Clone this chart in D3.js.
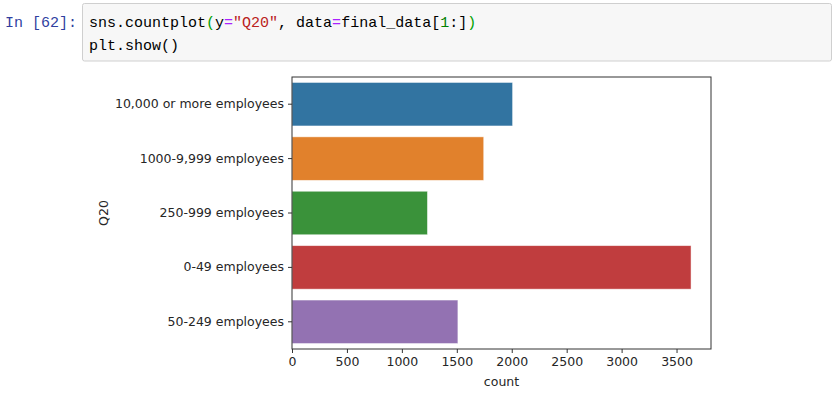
<!DOCTYPE html>
<html>
<head>
<meta charset="utf-8">
<script src="https://cdn.jsdelivr.net/npm/d3@7"></script>
<style>
  body { margin: 0; background: #fff; }
  svg { display: block; }
</style>
</head>
<body>
<svg width="837" height="397"></svg>
<script>
// Data
var categories = ["10,000 or more employees", "1000-9,999 employees", "250-999 employees", "0-49 employees", "50-249 employees"];
var counts = [2008, 1745, 1233, 3632, 1510];
var colors = ["#3274a1", "#e1812c", "#3a923a", "#c03d3e", "#9372b2"];
var xTicks = [0, 500, 1000, 1500, 2000, 2500, 3000, 3500];

var svg = d3.select("svg");

// Notebook cell
svg.append("rect")
    .attr("x", 82.5).attr("y", 3.5)
    .attr("width", 749).attr("height", 57.5)
    .attr("rx", 2)
    .attr("fill", "#f7f7f7")
    .attr("stroke", "#cfcfcf");

svg.append("text")
    .attr("x", 5).attr("y", 27)
    .attr("font-family", "Liberation Mono, monospace")
    .attr("font-size", 15)
    .attr("fill", "#303f9f")
    .text("In [62]:");

var code1 = [
    ["sns.countplot", "#000"], ["(", "#00a000"], ["y", "#000"], ["=", "#aa22ff"],
    ["\"Q20\"", "#ba2121"], [", data", "#000"], ["=", "#aa22ff"], ["final_data", "#000"],
    ["[", "#000"], ["1", "#008000"], [":]", "#000"], [")", "#00a000"]
];
var line1 = svg.append("text")
    .attr("x", 89).attr("y", 27)
    .attr("font-family", "Liberation Mono, monospace")
    .attr("font-size", 15)
    .attr("xml:space", "preserve");
line1.selectAll("tspan").data(code1).enter().append("tspan")
    .attr("fill", d => d[1])
    .text(d => d[0]);

svg.append("text")
    .attr("x", 89).attr("y", 50)
    .attr("font-family", "Liberation Mono, monospace")
    .attr("font-size", 15)
    .attr("fill", "#000")
    .text("plt.show()");

// Chart area
var mLeft = 292, mRight = 711, mTop = 77, mBottom = 349;

var x = d3.scaleLinear()
    .domain([0, d3.max(counts) * 1.05])
    .range([mLeft, mRight]);

var y = d3.scaleBand()
    .domain(categories)
    .range([mTop, mBottom])
    .paddingInner(0.2)
    .paddingOuter(0.1);

var g = svg.append("g");

g.selectAll("rect.bar")
    .data(categories)
    .enter()
    .append("rect")
    .attr("class", "bar")
    .attr("x", x(0))
    .attr("y", d => y(d))
    .attr("width", (d, i) => x(counts[i]) - x(0))
    .attr("height", y.bandwidth())
    .attr("fill", (d, i) => colors[i])
    .attr("stroke", "#fff")
    .attr("stroke-opacity", 0.6)
    .attr("stroke-width", 0.8);

// frame
g.append("rect")
    .attr("x", mLeft).attr("y", mTop)
    .attr("width", mRight - mLeft).attr("height", mBottom - mTop)
    .attr("fill", "none")
    .attr("stroke", "#333")
    .attr("stroke-width", 1);

// x axis
var xAxis = g.append("g")
    .attr("transform", "translate(0," + mBottom + ")")
    .call(d3.axisBottom(x).tickValues(xTicks).tickSize(4).tickPadding(4).tickFormat(d3.format("d")));
xAxis.select(".domain").remove();
xAxis.selectAll("line").attr("stroke", "#333");
xAxis.selectAll("text")
    .attr("font-family", "DejaVu Sans, sans-serif")
    .attr("font-size", 12.5)
    .attr("fill", "#262626");

// y axis
var yAxis = g.append("g")
    .attr("transform", "translate(" + mLeft + ",0)")
    .call(d3.axisLeft(y).tickSize(4).tickPadding(4));
yAxis.select(".domain").remove();
yAxis.selectAll("line").attr("stroke", "#333");
yAxis.selectAll("text")
    .attr("font-family", "DejaVu Sans, sans-serif")
    .attr("font-size", 12.5)
    .attr("fill", "#262626");

// axis labels
svg.append("text")
    .attr("x", (mLeft + mRight) / 2).attr("y", 386)
    .attr("text-anchor", "middle")
    .attr("font-family", "DejaVu Sans, sans-serif")
    .attr("font-size", 12.5)
    .attr("fill", "#262626")
    .text("count");

svg.append("text")
    .attr("transform", "translate(108," + ((mTop + mBottom) / 2) + ") rotate(-90)")
    .attr("text-anchor", "middle")
    .attr("font-family", "DejaVu Sans, sans-serif")
    .attr("font-size", 12.5)
    .attr("fill", "#262626")
    .text("Q20");
</script>
</body>
</html>
